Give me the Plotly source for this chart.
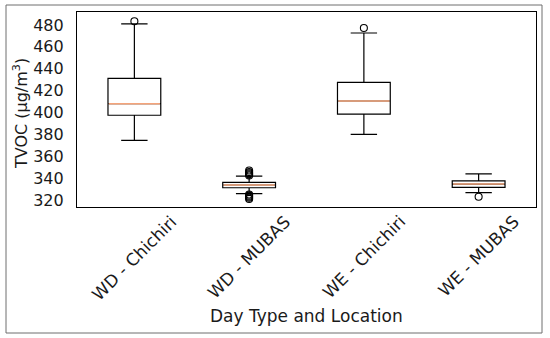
import plotly.graph_objects as go

categories = ["WD - Chichiri", "WD - MUBAS", "WE - Chichiri", "WE - MUBAS"]
q1 = [397.5, 331.2, 398.6, 331.6]
median = [408.0, 333.7, 410.5, 334.6]
q3 = [431.3, 336.2, 427.6, 337.4]
lowerfence = [374.6, 325.8, 380.0, 326.7]
upperfence = [481.0, 341.9, 472.7, 343.8]

outlier_cat = ["WD - Chichiri",
               "WD - MUBAS", "WD - MUBAS", "WD - MUBAS", "WD - MUBAS", "WD - MUBAS",
               "WD - MUBAS", "WD - MUBAS", "WD - MUBAS", "WD - MUBAS", "WD - MUBAS",
               "WE - Chichiri", "WE - MUBAS"]
outlier_val = [483.5,
               342.5, 343.5, 344.5, 345.5, 347.0,
               321.0, 322.0, 323.0, 324.0, 325.0,
               477.3, 323.0]

y_ticks = [320, 340, 360, 380, 400, 420, 440, 460, 480]

FONT = "DejaVu Sans"
TXT = "#1a1a1a"

fig = go.Figure()
fig.add_trace(go.Box(
    x=categories, q1=q1, median=median, q3=q3,
    lowerfence=lowerfence, upperfence=upperfence,
    fillcolor="rgba(255,255,255,0)", line=dict(color="black", width=1.2),
    whiskerwidth=0.5, width=0.46, boxpoints=False, showlegend=False,
    hoverinfo="skip",
))
fig.add_trace(go.Scatter(
    x=categories, y=median, mode="markers",
    marker=dict(symbol="line-ew", size=36.5, line=dict(color="#f5a47a", width=1.4)),
    showlegend=False, hoverinfo="skip",
))
fig.add_trace(go.Scatter(
    x=outlier_cat, y=outlier_val, mode="markers",
    marker=dict(symbol="circle-open", size=7, color="black", line=dict(width=1.1)),
    showlegend=False, hoverinfo="skip",
))

L, R, T, B = 77, 536, 12, 207
W, H = 550, 338
pw, ph = R - L, B - T

annotations = []
for c in categories:
    annotations.append(dict(
        x=c, xref="x", y=(B - 209) / ph, yref="paper",
        text=c, textangle=-45, showarrow=False,
        xanchor="center", yanchor="top",
        font=dict(family=FONT, size=17, color=TXT),
    ))
annotations.append(dict(
    x=0.5, xref="paper", y=(B - 316) / ph, yref="paper",
    text="Day Type and Location", showarrow=False,
    xanchor="center", yanchor="middle",
    font=dict(family=FONT, size=17, color=TXT),
))
annotations.append(dict(
    x=(21 - L) / pw, xref="paper", y=(B - 114) / ph, yref="paper",
    text="TVOC (μg/m<sup>3</sup>)", textangle=-90, showarrow=False,
    xanchor="center", yanchor="middle",
    font=dict(family=FONT, size=16, color=TXT),
))

fig.update_layout(
    width=W, height=H,
    margin=dict(l=L, r=W - R, t=T, b=H - B),
    paper_bgcolor="white", plot_bgcolor="white",
    font=dict(family=FONT, size=16, color=TXT),
    annotations=annotations,
    shapes=[dict(
        type="rect", xref="paper", yref="paper",
        x0=(6 - L) / pw, x1=(542 - L) / pw,
        y0=(B - 333) / ph, y1=(B - 5) / ph,
        line=dict(color="#6e6e6e", width=1), fillcolor="rgba(0,0,0,0)", layer="below",
    )],
    xaxis=dict(
        type="category", categoryorder="array", categoryarray=categories,
        range=[-0.5, 3.5], showticklabels=False, ticks="",
        showline=True, mirror=True, linecolor="black", linewidth=1.2,
        showgrid=False, zeroline=False, fixedrange=True,
    ),
    yaxis=dict(
        range=[313.6, 491.9], tickvals=y_ticks, ticks="",
        ticklabelstandoff=9,
        showline=True, mirror=True, linecolor="black", linewidth=1.2,
        showgrid=False, zeroline=False, fixedrange=True,
        tickfont=dict(family=FONT, size=16, color=TXT),
    ),
)

fig.write_html(
    "out.html",
    config={"displayModeBar": False},
    post_script="document.body.style.margin='0';document.body.style.overflow='hidden';",
)
